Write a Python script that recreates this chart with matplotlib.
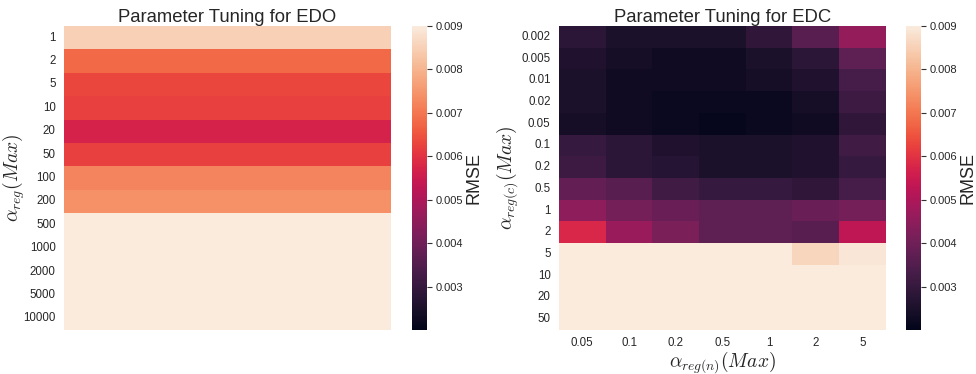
import numpy as np
import pandas as pd
import seaborn as sns
import matplotlib
matplotlib.use("Agg")
import matplotlib.pyplot as plt

sns.set_theme(style="white")
plt.rcParams['font.family'] = ['Liberation Sans', 'DejaVu Sans']
plt.rcParams['mathtext.fontset'] = 'cm'

# EDO: RMSE per alpha_reg(Max)
edo_alpha = ["1", "2", "5", "10", "20", "50", "100", "200",
             "500", "1000", "2000", "5000", "10000"]
edo_rmse = [0.0085, 0.0068, 0.0063, 0.0062, 0.0057, 0.0062, 0.0072, 0.0074,
            0.0095, 0.0095, 0.0095, 0.0095, 0.0095]

# EDC: rows alpha_reg(c), cols alpha_reg(n)
edc_alpha_c = ["0.002", "0.005", "0.01", "0.02", "0.05", "0.1", "0.2",
               "0.5", "1", "2", "5", "10", "20", "50"]
edc_alpha_n = ["0.05", "0.1", "0.2", "0.5", "1", "2", "5"]
edc_rmse = [
    [0.0028, 0.0025, 0.0025, 0.0025, 0.0029, 0.0036, 0.0046],
    [0.0026, 0.0024, 0.0023, 0.0023, 0.0025, 0.0028, 0.0037],
    [0.0025, 0.0023, 0.0023, 0.0023, 0.0024, 0.0026, 0.0033],
    [0.0025, 0.0023, 0.0022, 0.0022, 0.0022, 0.0024, 0.0031],
    [0.0024, 0.0023, 0.0022, 0.0021, 0.0022, 0.0023, 0.0029],
    [0.0030, 0.0028, 0.0026, 0.0025, 0.0025, 0.0026, 0.0032],
    [0.0031, 0.0028, 0.0027, 0.0025, 0.0025, 0.0026, 0.0030],
    [0.0038, 0.0036, 0.0032, 0.0030, 0.0030, 0.0029, 0.0033],
    [0.0045, 0.0041, 0.0039, 0.0037, 0.0037, 0.0039, 0.0041],
    [0.0058, 0.0047, 0.0042, 0.0037, 0.0037, 0.0036, 0.0053],
    [0.0095, 0.0095, 0.0095, 0.0095, 0.0095, 0.0086, 0.0089],
    [0.0095, 0.0095, 0.0095, 0.0095, 0.0095, 0.0095, 0.0095],
    [0.0095, 0.0095, 0.0095, 0.0095, 0.0095, 0.0095, 0.0095],
    [0.0095, 0.0095, 0.0095, 0.0095, 0.0095, 0.0095, 0.0095],
]

vmin, vmax = 0.002, 0.009
cticks = [0.003, 0.004, 0.005, 0.006, 0.007, 0.008, 0.009]

fig = plt.figure(figsize=(9.76, 3.74), dpi=100)
ax1 = fig.add_axes([0.0656, 0.1176, 0.335, 0.813])
cax1 = fig.add_axes([0.4219, 0.1176, 0.0154, 0.813])
ax2 = fig.add_axes([0.5727, 0.1176, 0.335, 0.813])
cax2 = fig.add_axes([0.9283, 0.1176, 0.0154, 0.813])

edo_df = pd.DataFrame({"EDO": edo_rmse}, index=edo_alpha)
sns.heatmap(edo_df, ax=ax1, cbar_ax=cax1, vmin=vmin, vmax=vmax,
            cmap="rocket", xticklabels=False)
ax1.set_title("Parameter Tuning for EDO", fontsize=13.3, pad=3)
ax1.set_ylabel(r"$\alpha_{reg}(Max)$", fontsize=14)
ax1.yaxis.set_label_coords(-0.113, 0.5)
ax1.tick_params(axis="y", labelsize=8.3, rotation=0, length=0, pad=6)

edc_df = pd.DataFrame(edc_rmse, index=edc_alpha_c, columns=edc_alpha_n)
sns.heatmap(edc_df, ax=ax2, cbar_ax=cax2, vmin=vmin, vmax=vmax, cmap="rocket")
ax2.set_title("Parameter Tuning for EDC", fontsize=13.3, pad=3)
ax2.set_ylabel(r"$\alpha_{reg(c)}(Max)$", fontsize=14)
ax2.yaxis.set_label_coords(-0.119, 0.5)
ax2.set_xlabel(r"$\alpha_{reg(n)}(Max)$", fontsize=14, labelpad=0)
ax2.tick_params(axis="y", labelsize=8.3, rotation=0, length=0, pad=6)
ax2.tick_params(axis="x", labelsize=8.3, rotation=0, length=0, pad=5)

for cax in (cax1, cax2):
    cax.set_yticks(cticks)
    cax.set_yticklabels([f"{t:.3f}" for t in cticks])
    cax.tick_params(labelsize=8, length=3.5, width=0.8, color="#333333", pad=2.5)
    cax.set_ylabel("RMSE", fontsize=13, labelpad=2)

fig.savefig("out.png", dpi=100)
